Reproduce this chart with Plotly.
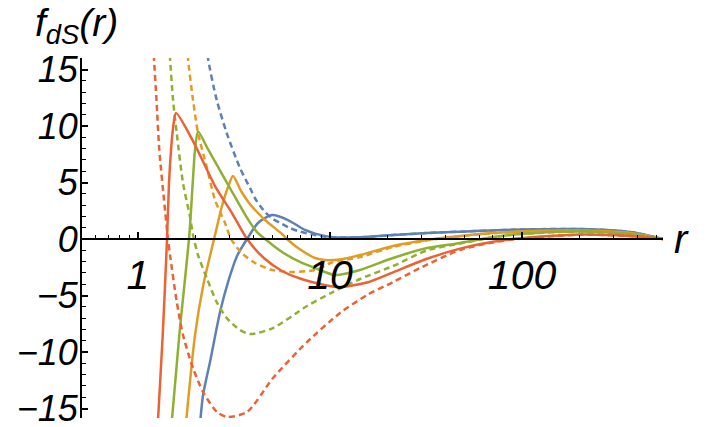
import plotly.graph_objects as go

# ---- data (r, f_dS(r)) ----
r_blue_solid = [2.091, 2.181, 2.371, 2.674, 2.943, 3.279, 3.696, 4.217, 4.988, 6.04, 7.41, 8.36, 10.37, 14.33, 21.3, 32.0, 47.5, 97.6, 200.5, 365, 542]
f_blue_solid = [-16.9, -13.8, -10.88, -6.46, -3.81, -1.50, 0.0, 1.42, 2.12, 1.68, 0.80, 0.48, 0.16, 0.16, 0.35, 0.53, 0.65, 0.84, 0.88, 0.62, 0.0]

r_blue_dash = [2.301, 2.315, 2.570, 2.897, 3.398, 3.831, 4.118, 4.587, 5.048, 5.623, 6.19, 6.813, 8.36, 10.0, 14.33, 21.3, 32.0, 47.5, 97.6, 200.5, 365, 542]
f_blue_dash = [17.17, 16.02, 12.30, 9.38, 6.28, 4.51, 3.45, 2.39, 1.77, 1.33, 0.97, 0.71, 0.35, 0.16, 0.16, 0.35, 0.53, 0.65, 0.84, 0.88, 0.62, 0.0]

r_orange_solid = [1.764, 1.981, 2.188, 2.518, 2.729, 2.943, 3.125, 3.44, 3.786, 4.167, 4.587, 5.623, 5.970, 6.813, 8.36, 9.42, 11.27, 14.33, 21.3, 32.0, 47.5, 70.6, 97.6, 200.5, 365, 542]
f_orange_solid = [-16.9, -8.50, -4.07, 0.35, 2.83, 4.60, 5.58, 4.25, 3.19, 2.39, 1.68, 0.44, 0.0, -0.80, -1.68, -1.86, -1.81, -1.42, -0.62, -0.09, 0.27, 0.53, 0.66, 0.75, 0.53, 0.0]

r_orange_dash = [1.810, 1.821, 1.934, 2.054, 2.279, 2.518, 2.839, 3.050, 3.468, 4.068, 4.988, 6.34, 8.36, 10.37, 14.33, 21.3, 32.0, 47.5, 70.6, 97.6, 200.5, 365, 542]
f_orange_dash = [17.17, 16.02, 12.30, 9.38, 6.37, 3.45, 1.42, 0.0, -1.24, -2.12, -2.74, -2.92, -2.74, -2.04, -1.60, -0.70, -0.12, 0.25, 0.50, 0.64, 0.74, 0.52, 0.0]

r_green_solid = [1.486, 1.641, 1.850, 1.927, 1.981, 2.054, 2.315, 2.579, 2.839, 3.238, 3.741, 4.167, 4.587, 5.623, 7.148, 8.36, 10.62, 14.33, 21.3, 32.0, 47.5, 70.6, 97.6, 200.5, 365, 542]
f_green_solid = [-16.9, -8.50, 0.35, 4.96, 7.88, 9.51, 7.95, 6.54, 5.28, 3.57, 1.74, 0.61, 0.0, -1.15, -2.12, -2.57, -3.19, -2.74, -1.68, -0.80, -0.35, 0.18, 0.44, 0.66, 0.44, 0.0]

r_green_dash = [1.459, 1.468, 1.522, 1.591, 1.715, 1.866, 1.934, 2.054, 2.279, 2.570, 2.897, 3.398, 3.831, 5.048, 7.59, 10.37, 14.33, 21.3, 32.0, 47.5, 70.6, 97.6, 200.5, 365, 542]
f_green_dash = [17.17, 16.02, 12.30, 9.38, 4.96, 1.95, 0.35, -1.42, -3.45, -5.58, -6.99, -8.05, -8.41, -7.88, -5.93, -4.69, -3.54, -2.39, -1.0, -0.40, 0.15, 0.44, 0.66, 0.44, 0.0]

r_red_solid = [1.263, 1.345, 1.416, 1.450, 1.486, 1.522, 1.577, 1.934, 2.518, 3.087, 3.696, 4.587, 5.623, 6.98, 10.88, 15.58, 21.3, 32.0, 47.5, 70.6, 97.6, 200.5, 365, 542]
f_red_solid = [-16.9, -8.50, 0.0, 4.96, 7.88, 9.82, 11.15, 8.67, 4.69, 2.30, 0.0, -1.77, -2.83, -3.50, -4.25, -3.85, -2.95, -1.75, -0.85, -0.24, 0.06, 0.40, 0.27, 0.0]

r_red_dash = [1.204, 1.211, 1.248, 1.291, 1.366, 1.433, 1.468, 1.591, 1.715, 1.934, 2.181, 2.579, 2.908, 3.696, 5.048, 7.59, 11.27, 15.58, 21.3, 29.4, 47.5, 70.6, 97.6, 200.5, 365, 542]
f_red_dash = [17.17, 16.02, 12.30, 7.88, 3.45, 0.0, -1.42, -5.55, -8.50, -11.42, -13.54, -15.31, -15.75, -15.31, -12.30, -9.12, -6.55, -4.96, -3.81, -2.57, -0.97, -0.30, 0.03, 0.38, 0.26, 0.0]

y_tick_vals = [-15, -10, -5, 0, 5, 10, 15]
x_tick_vals = [1, 10, 100]
x_tick_text = ["1", "10", "100"]
x_minor_vals = [0.6, 0.7, 0.8, 0.9, 2, 3, 4, 5, 6, 7, 8, 9,
                20, 30, 40, 50, 60, 70, 80, 90, 200, 300, 400, 500]

BLUE, ORANGE, GREEN, RED = "#5E81B5", "#E19C24", "#8FB032", "#EB6235"

series = [
    (r_blue_solid, f_blue_solid, BLUE, "solid"),
    (r_blue_dash, f_blue_dash, BLUE, "6px,4px"),
    (r_orange_solid, f_orange_solid, ORANGE, "solid"),
    (r_orange_dash, f_orange_dash, ORANGE, "6px,4px"),
    (r_green_solid, f_green_solid, GREEN, "solid"),
    (r_green_dash, f_green_dash, GREEN, "6px,4px"),
    (r_red_solid, f_red_solid, RED, "solid"),
    (r_red_dash, f_red_dash, RED, "6px,4px"),
]

fig = go.Figure()
for xs, ys, col, dash in series:
    fig.add_trace(go.Scatter(
        x=xs, y=ys, mode="lines",
        line=dict(color=col, width=2.5, dash=dash, shape="spline", smoothing=0.7),
        showlegend=False, hoverinfo="skip"))

y_min, y_max = -15.84, 16.02
x_pos = (0 - y_min) / (y_max - y_min)

lab_font = dict(family="Liberation Sans, Arial, sans-serif", color="black", style="italic")

fig.update_layout(
    width=723, height=427, autosize=False,
    margin=dict(l=82, r=60, t=58, b=9),
    paper_bgcolor="white", plot_bgcolor="white",
    xaxis=dict(
        type="log", range=[-0.2917, 2.734], automargin=False,
        anchor="free", position=x_pos,
        showline=True, linecolor="black", linewidth=2,
        showgrid=False, zeroline=False,
        ticks="inside", ticklen=6, tickwidth=1.5, tickcolor="black",
        tickmode="array", tickvals=x_tick_vals, ticktext=x_tick_text,
        tickfont=dict(size=41, **lab_font),
        minor=dict(ticks="inside", ticklen=3.5, tickwidth=1, tickcolor="black",
                   tickmode="array", tickvals=x_minor_vals, showgrid=False),
    ),
    yaxis=dict(
        range=[y_min, y_max], automargin=False,
        showline=True, linecolor="black", linewidth=2,
        showgrid=False, zeroline=False,
        ticks="inside", ticklen=6, tickwidth=1.5, tickcolor="black",
        tickmode="array", tickvals=y_tick_vals,
        tickfont=dict(size=36, **lab_font),
        ticklabelstandoff=-5, ticklabeloverflow="allow",
        minor=dict(ticks="inside", ticklen=3.5, tickwidth=1, tickcolor="black",
                   dtick=1, showgrid=False),
    ),
    annotations=[
        dict(text="f<sub>dS</sub>(r)", xref="paper", yref="paper",
             x=-0.084, y=1.165, xanchor="left", yanchor="top", showarrow=False,
             font=dict(size=39, **lab_font)),
        dict(text="r", xref="paper", yref="y",
             x=1.015, y=0, xanchor="left", yanchor="middle", showarrow=False,
             font=dict(size=40, **lab_font)),
    ],
)

fig.write_html("out.html", config={"displayModeBar": False},
               post_script="document.body.style.margin='0px';")
